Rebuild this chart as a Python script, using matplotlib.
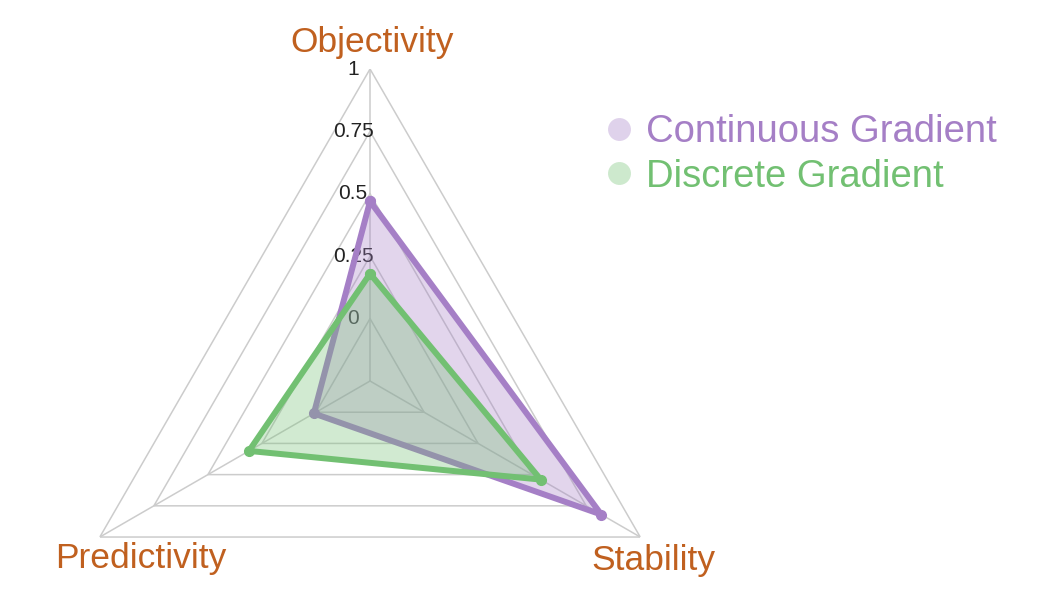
import numpy as np
import matplotlib.pyplot as plt
from matplotlib.lines import Line2D

plt.rcParams['font.family'] = ['Liberation Sans', 'DejaVu Sans']

# data
categories = ["Objectivity", "Stability", "Predictivity"]
continuous = [0.47, 0.82, 0.01]
discrete = [0.18, 0.54, 0.31]
ring_values = [0, 0.25, 0.5, 0.75, 1]
ring_labels = ["0", "0.25", "0.5", "0.75", "1"]
series_names = ["Continuous Gradient", "Discrete Gradient"]

purple = "#a57fc6"
green = "#72c072"
label_color = "#c0601f"
grid_color = "#cccccc"

n = len(categories)
angles = [np.pi / 2 - 2 * np.pi * i / n for i in range(n)]
closed = angles + angles[:1]

fig = plt.figure(figsize=(10.49, 5.96), dpi=100)
ax = fig.add_axes([0.0553, -0.1628, 0.5949, 1.047], projection="polar")
ax.set_ylim(-0.25, 1)
ax.axis("off")

# triangle grid
for v in ring_values:
    ax.plot(closed, [v] * (n + 1), color=grid_color, lw=1.1, zorder=1)
for a in angles:
    ax.plot([a, a], [-0.25, 1], color=grid_color, lw=1.1, zorder=1)

# value labels on top axis
for v, lab in zip(ring_values, ring_labels):
    ax.annotate(lab, (np.pi / 2, v), xytext=(-17, 0), textcoords="offset pixels",
                ha="center", va="center", fontsize=15, color="#222222", zorder=2)

# series, each drawn fully above the previous one
z = 3
for vals, col in [(continuous, purple), (discrete, green)]:
    r = vals + vals[:1]
    ax.fill(closed, r, color=col, alpha=0.32, lw=0, zorder=z)
    ax.plot(closed, r, color=col, lw=4.3, marker="o", markersize=7, zorder=z + 1)
    z += 2

# axis names
offsets = [(2, 27), (13, -23), (41, -21)]
for a, name, off in zip(angles, categories, offsets):
    ax.annotate(name, (a, 1), xytext=off, textcoords="offset pixels",
                ha="center", va="center", fontsize=25.5, color=label_color)

handles = [Line2D([], [], ls="none", marker="o", markersize=16.5, color=c, alpha=0.35,
                  markeredgewidth=0) for c in (purple, green)]
fig.legend(handles, series_names, loc="upper left", bbox_to_anchor=(0.565, 0.834),
           frameon=False, fontsize=27.5, labelcolor=[purple, green], handlelength=0.6,
           handletextpad=0.4, labelspacing=0.22, borderaxespad=0)

fig.savefig("out.png", dpi=100)
